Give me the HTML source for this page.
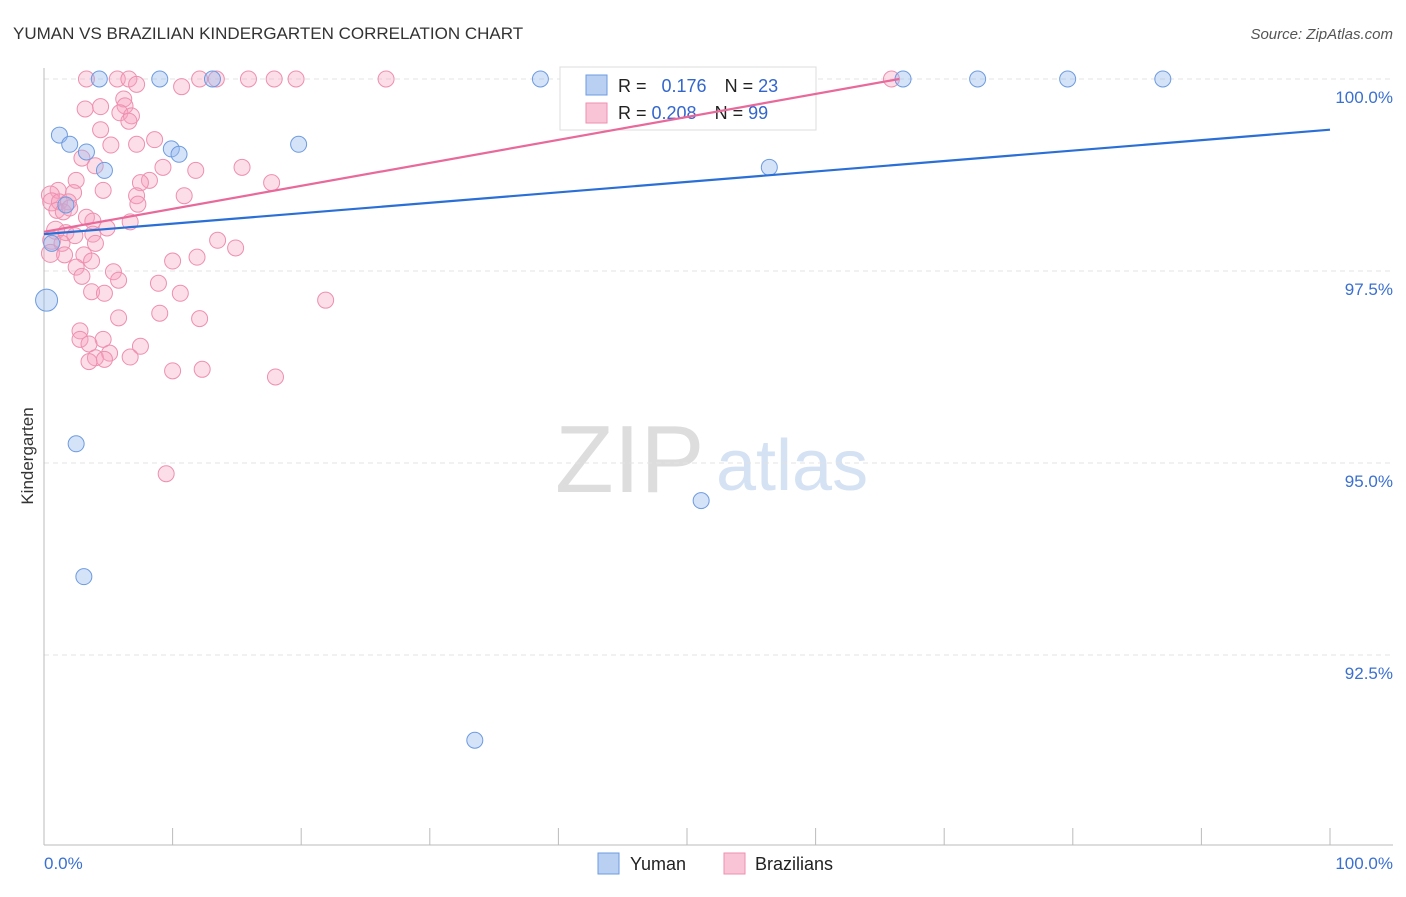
<!DOCTYPE html>
<html><head><meta charset="utf-8"><style>
body{margin:0;background:#fff;font-family:"Liberation Sans",sans-serif}
svg text{font-family:"Liberation Sans",sans-serif}
</style></head><body>
<svg id="c" width="1406" height="892" xmlns="http://www.w3.org/2000/svg">
<text x="13" y="39" font-size="17" fill="#333">YUMAN VS BRAZILIAN KINDERGARTEN CORRELATION CHART</text>
<text x="1393" y="39" font-size="15" fill="#555" text-anchor="end" font-style="italic">Source: ZipAtlas.com</text>
<text x="555" y="492" font-size="96" fill="#ddd" font-family="Liberation Serif,serif">ZIP</text>
<text x="716" y="490" font-size="72" fill="#d5e2f3">atlas</text>
<g id="grid"></g><g id="axes"></g>
<g>
<rect x="560" y="67" width="256" height="63" fill="#fff" stroke="#ddd"/>
<rect x="586" y="75" width="21" height="20" fill="#b9d0f3" stroke="#6d9be0"/>
<rect x="586" y="103" width="21" height="20" fill="#f9c4d5" stroke="#ee8fb0"/>
<text x="618" y="92" font-size="18" fill="#222">R = <tspan fill="#3366cc" dx="10">0.176</tspan><tspan dx="18" fill="#222">N = </tspan><tspan fill="#3366cc">23</tspan></text>
<text x="618" y="119" font-size="18" fill="#222">R = <tspan fill="#3366cc">0.208</tspan><tspan dx="18" fill="#222">N = </tspan><tspan fill="#3366cc">99</tspan></text>
</g>
<g id="pts"></g><g id="lines"></g>
<text transform="translate(33,456) rotate(-90)" font-size="17" fill="#333" text-anchor="middle">Kindergarten</text>
<text x="44" y="869" font-size="17" fill="#3a70d0">0.0%</text>
<text x="1393" y="869" font-size="17" fill="#3a70d0" text-anchor="end">100.0%</text>
<g>
<rect x="598" y="853" width="21" height="21" fill="#b9d0f3" stroke="#6d9be0"/>
<text x="630" y="870" font-size="18" fill="#222">Yuman</text>
<rect x="724" y="853" width="21" height="21" fill="#f9c4d5" stroke="#ee8fb0"/>
<text x="755" y="870" font-size="18" fill="#222">Brazilians</text>
</g>
</svg>
<script>
const yTicks=[100,97.5,95,92.5];
const yTickLabels=["100.0%","97.5%","95.0%","92.5%"];
const yumanX=[4.3,9.0,13.1,38.6,66.8,72.6,79.6,87.0,1.2,2.0,3.3,4.7,9.9,10.5,19.8,56.4,0.2,0.6,2.5,3.1,51.1,33.5,1.7];
const yumanY=[100,100,100,100,100,100,100,100,99.27,99.15,99.05,98.81,99.09,99.02,99.15,98.85,97.12,97.86,95.25,93.52,94.51,91.39,98.36];
const brazX=[3.3,5.7,6.6,12.1,13.4,15.9,17.9,19.6,26.6,65.9,7.2,10.7,3.2,4.4,6.2,6.3,5.9,6.8,6.6,4.4,8.6,5.2,7.2,2.95,3.98,9.25,11.8,15.4,2.5,8.2,7.5,17.7,1.1,2.3,4.6,10.9,7.2,0.5,0.6,1.2,1.9,1.0,1.5,2.0,3.3,3.8,6.7,7.3,0.9,1.7,2.4,3.8,4.9,0.6,1.4,4.0,13.5,14.9,0.5,1.6,3.1,3.7,10.0,11.9,2.5,5.4,5.8,8.9,2.95,3.7,4.7,10.6,21.9,5.8,9.0,12.1,2.8,2.8,4.6,3.5,7.5,4.0,5.1,6.7,3.5,4.7,10.0,12.3,18.0,9.5];
const brazY=[100,100,100,100,100,100,100,100,100,100,99.93,99.9,99.61,99.64,99.74,99.65,99.56,99.52,99.45,99.34,99.21,99.14,99.15,98.97,98.87,98.85,98.81,98.85,98.68,98.68,98.65,98.65,98.55,98.52,98.55,98.48,98.48,98.49,98.40,98.40,98.40,98.29,98.27,98.32,98.2,98.15,98.14,98.37,98.03,98.0,97.96,97.98,98.06,97.9,97.86,97.86,97.9,97.8,97.73,97.71,97.71,97.63,97.63,97.68,97.55,97.49,97.38,97.34,97.43,97.23,97.21,97.21,97.12,96.89,96.95,96.88,96.72,96.61,96.61,96.55,96.52,96.37,96.43,96.38,96.32,96.35,96.2,96.22,96.12,94.86];
const yumanFit=[97.98,99.34];
const brazFit=[98.01,100.0];
const brazFitEnd=66.5;
const X=v=>44+v*12.86, Y=v=>79+(100-v)/2.5*192;
const NS="http://www.w3.org/2000/svg";
function mk(p,t,a){const e=document.createElementNS(NS,t);for(const k in a)e.setAttribute(k,a[k]);p.appendChild(e);return e;}
const grid=document.getElementById('grid'),axes=document.getElementById('axes'),pts=document.getElementById('pts'),lines=document.getElementById('lines');
yTicks.forEach((t,i)=>{
 const l=mk(grid,'line',{x1:44,x2:1393,y1:Y(t),y2:Y(t),stroke:'#e3e3e3','stroke-dasharray':'5,4'});
 
 
 const tx=mk(grid,'text',{x:1393,y:Y(t)+24,'font-size':17,fill:'#3a70d0','text-anchor':'end'});
 tx.textContent=yTickLabels[i];
 
 
});
const ya=mk(axes,'line',{x1:44,x2:44,y1:68,y2:845,stroke:'#bbb'});


const xa=mk(axes,'line',{x1:44,x2:1393,y1:845,y2:845,stroke:'#bbb'});


for(let i=0;i<=10;i++){const tk=mk(axes,'line',{x1:X(i*10),x2:X(i*10),y1:828,y2:845,stroke:'#bbb'});
 
 }
brazX.forEach((x,i)=>{const c=mk(pts,'circle',{cx:X(x),cy:Y(brazY[i]),r:x<1?9:8,fill:'rgba(245,160,190,0.35)',stroke:'#ee8fb0','stroke-width':1});
 
 });
yumanX.forEach((x,i)=>{const c=mk(pts,'circle',{cx:X(x),cy:Y(yumanY[i]),r:x<0.5?11:8,fill:'rgba(150,185,240,0.4)',stroke:'#6d9be0','stroke-width':1});
 
 });
const bl=mk(lines,'line',{x1:X(0),y1:Y(yumanFit[0]),x2:X(100),y2:Y(yumanFit[1]),stroke:'#2a6fd6','stroke-width':2.2});


const pl=mk(lines,'line',{x1:X(0),y1:Y(brazFit[0]),x2:X(brazFitEnd),y2:Y(brazFit[1]),stroke:'#e8699a','stroke-width':2.2});


</script>
</body></html>
